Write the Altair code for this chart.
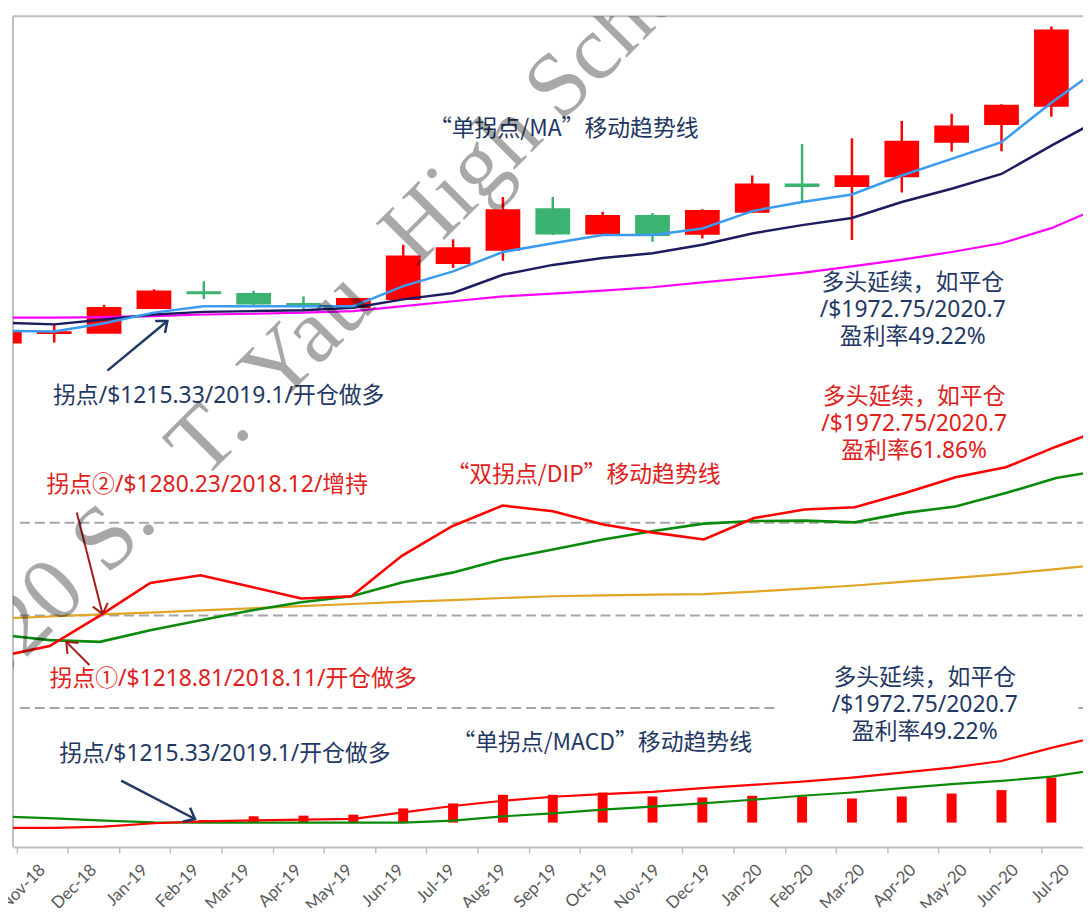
import json
import math
import altair as alt
import pandas as pd

# ---------------- data ----------------
months = ["Oct-18", "Nov-18", "Dec-18", "Jan-19", "Feb-19", "Mar-19", "Apr-19", "May-19",
          "Jun-19", "Jul-19", "Aug-19", "Sep-19", "Oct-19", "Nov-19", "Dec-19", "Jan-20",
          "Feb-20", "Mar-20", "Apr-20", "May-20", "Jun-20", "Jul-20", "Aug-20"]
axis_labels = months[1:22]   # Nov-18 .. Jul-20

# monthly candles Oct-18 .. Jul-20
candle_open = [1149, 1174, 1175, 1240, 1282, 1277, 1251, 1243, 1264, 1359, 1394,
               1501, 1437, 1483, 1436, 1494, 1566, 1562, 1588, 1679, 1726, 1774]
candle_high = [1180, 1197, 1249, 1290, 1311, 1286, 1271, 1267, 1407, 1422, 1533,
               1533, 1494, 1491, 1501, 1590, 1673, 1688, 1734, 1753, 1778, 1983]
candle_low = [1146, 1149, 1174, 1239, 1264, 1245, 1232, 1240, 1263, 1346, 1365,
              1433, 1431, 1415, 1424, 1492, 1522, 1420, 1545, 1653, 1654, 1745]
candle_close = [1178, 1176, 1240, 1284, 1279, 1252, 1248, 1264, 1376, 1398, 1498,
                1437, 1483, 1433, 1496, 1566, 1562, 1588, 1679, 1719, 1774, 1972.75]

# moving averages Oct-18 .. Aug-20
ma_fast = [1180, 1178, 1200, 1228, 1245, 1245, 1245, 1245, 1298, 1337, 1388, 1411,
           1433, 1433, 1450, 1496, 1520, 1540, 1590, 1634, 1678, 1782, 1877]
ma_mid = [1201, 1197, 1210, 1223, 1230, 1232, 1234, 1241, 1263, 1280, 1328, 1354,
          1372, 1385, 1407, 1437, 1459, 1478, 1520, 1555, 1594, 1669, 1740]
ma_slow = [1215, 1215, 1216, 1219, 1223, 1225, 1228, 1232, 1245, 1258, 1271, 1278,
           1286, 1295, 1308, 1320, 1333, 1350, 1368, 1388, 1411, 1451, 1507]

# DIP lines Oct-18 .. Aug-20
dip_red = [1185, 1209, 1280, 1356, 1374, 1347, 1320, 1325, 1419, 1488, 1536, 1523,
           1492, 1473, 1457, 1507, 1527, 1532, 1565, 1602, 1625, 1673, 1717]
dip_green = [1236, 1223, 1219, 1246, 1269, 1292, 1311, 1325, 1357, 1380, 1411, 1434,
             1457, 1477, 1494, 1500, 1501, 1497, 1519, 1534, 1565, 1600, 1620]
dip_gold = [1273, 1278, 1283, 1287, 1292, 1297, 1302, 1307, 1312, 1316, 1321, 1325,
            1327, 1329, 1330, 1336, 1343, 1350, 1359, 1368, 1377, 1388, 1400]
dip_grid = [1496, 1280, 1065]

# MACD Oct-18 .. Aug-20 (bars Oct-18 .. Jul-20)
macd_red = [-5.3, -5.3, -4, -0.7, 1.3, 2.3, 3, 3.7, 10.3, 16.7, 22, 26, 28.7, 31,
            34.7, 38, 41.3, 45.3, 50.3, 55.3, 62, 75.3, 87]
macd_green = [6, 4.3, 2, 0.3, 0, 0, 0, 0, 0, 2, 6.3, 9.3, 13, 16, 19.3, 23, 27, 30.3,
              34.7, 38.7, 42, 46.3, 54]
macd_bar = [None, None, None, None, 2.7, 6.3, 7, 8, 14.3, 19.3, 28, 28, 30.3, 26.3,
            25.3, 27, 26.3, 24.3, 26.3, 29.3, 32.7, 45.3]

watermark_words = ["©2020", "S.", "T.", "Yau", "High", "School"]

idx = list(range(-1, len(months) - 1))   # Oct-18 = -1, Nov-18 = 0 ...

# ---------------- layout / style ----------------
W, H = 1078, 837
X_DOMAIN = [-0.728, 20.535]          # data panels
AXIS_DOMAIN = [-0.572, 20.322]       # the category axis below (slightly different spacing)
PRICE_DOMAIN = [-182.7, 2010.2]
DIP_DOMAIN = [741.5, 2674.2]
MACD_DOMAIN = [-24.7, 812.3]

FONT = "'Noto Sans', 'Noto Sans CJK SC', sans-serif"
FONT_CJK = "'Noto Sans CJK SC', sans-serif"
RED = "#FF0000"
CANDLE_GREEN = "#3CB371"
BLUE = "#3A9BF0"
NAVY_LINE = "#1C1C5E"
MAGENTA = "#FF00FF"
DGREEN = "#0A8A0A"
GOLD = "#E0A526"
TXT_NAVY = "#1F3864"
TXT_RED = "#E0201B"
ARROW_RED = "#A51C1C"
GRID = "#A6A6A6"
FRAME = "#BFBFBF"
CHEVRON = "M-0.9,1.1L0,0L0.9,1.1"

XS = alt.Scale(domain=X_DOMAIN, nice=False, zero=False)
label_expr = ("datum.value < 20 ? " + json.dumps(axis_labels) +
              "[round(datum.value + 0.5)] : ''")
XAXIS = alt.Axis(values=[k - 0.5 for k in range(22)], labelExpr=label_expr,
                 labelOffset=25.8, labelAngle=315, labelAlign="right",
                 labelBaseline="middle", labelPadding=14, labelFont="Lato",
                 labelFontSize=17, labelColor="#595959", labelOverlap=False,
                 labelFlush=False, tickSize=6, tickColor=FRAME, tickWidth=1.5,
                 domainColor=FRAME, domainWidth=2, grid=False, title=None,
                 orient="bottom")


def xenc(field="i"):
    return alt.X(f"{field}:Q", scale=XS, axis=None)


def yenc(field, domain):
    return alt.Y(f"{field}:Q", scale=alt.Scale(domain=domain, nice=False, zero=False),
                 axis=None)


def line(values, domain, color, width):
    df = pd.DataFrame({"i": idx[:len(values)], "v": values})
    return alt.Chart(df).mark_line(color=color, strokeWidth=width, clip=True).encode(
        x=xenc(), y=yenc("v", domain))


def note(i, v, text, domain, color, align="center", font=FONT):
    # for multi-line notes, v is the position of the first line
    df = pd.DataFrame({"i": [i], "v": [v], "t": [text]})
    return alt.Chart(df).mark_text(align=align, baseline="middle", font=font, fontSize=23,
                                   color=color, lineBreak="\n", lineHeight=27,
                                   clip=True).encode(
        x=xenc(), y=yenc("v", domain), text="t:N")


def arrow(i1, v1, i2, v2, domain, color, width):
    df = pd.DataFrame({"i": [i1], "v": [v1], "i2": [i2], "v2": [v2]})
    dx = (i2 - i1) * W / (X_DOMAIN[1] - X_DOMAIN[0])
    dy = -(v2 - v1) * H / (domain[1] - domain[0])
    ang = math.degrees(math.atan2(dx, -dy)) % 360
    rule = alt.Chart(df).mark_rule(color=color, strokeWidth=width).encode(
        x=xenc(), y=yenc("v", domain), x2="i2:Q", y2="v2:Q")
    head = alt.Chart(df).mark_point(shape=CHEVRON, angle=ang, size=300, filled=False,
                                    color=color, strokeWidth=width, opacity=1).encode(
        x=xenc("i2"), y=yenc("v2", domain))
    return alt.layer(rule, head)


# ---------------- category axis ----------------
axis_layer = alt.Chart(pd.DataFrame({"k": list(range(len(axis_labels)))})).mark_point(
    opacity=0, size=1).encode(
    x=alt.X("k:Q", scale=alt.Scale(domain=AXIS_DOMAIN, nice=False, zero=False), axis=XAXIS))

# ---------------- top panel: candles + MA ----------------
cdf = pd.DataFrame({"i": idx[:len(candle_open)], "open": candle_open, "high": candle_high,
                    "low": candle_low, "close": candle_close})
cdf["dir"] = ["up" if c >= o else "down" for o, c in zip(cdf["open"], cdf["close"])]
cscale = alt.Scale(domain=["up", "down"], range=[RED, CANDLE_GREEN])

wicks = alt.Chart(cdf).mark_rule(strokeWidth=2.5, clip=True).encode(
    x=xenc(), y=yenc("low", PRICE_DOMAIN), y2="high:Q",
    color=alt.Color("dir:N", scale=cscale, legend=None))
bodies = alt.Chart(cdf).mark_bar(size=33, strokeWidth=2, clip=True).encode(
    x=xenc(), y=yenc("open", PRICE_DOMAIN), y2="close:Q",
    color=alt.Color("dir:N", scale=cscale, legend=None),
    stroke=alt.Stroke("dir:N", scale=cscale, legend=None))

top = alt.layer(
    wicks, bodies,
    line(ma_slow, PRICE_DOMAIN, MAGENTA, 2.2),
    line(ma_mid, PRICE_DOMAIN, NAVY_LINE, 2.5),
    line(ma_fast, PRICE_DOMAIN, BLUE, 2.5),
    note(10.22, 1712, "“单拐点/MA”移动趋势线", PRICE_DOMAIN, TXT_NAVY, font=FONT_CJK),
    note(17.22, 1306, "多头延续，如平仓\n/$1972.75/2020.7\n盈利率49.22%", PRICE_DOMAIN, TXT_NAVY),
    note(-0.024, 1007, "拐点/$1215.33/2019.1/开仓做多", PRICE_DOMAIN, TXT_NAVY, "left"),
    arrow(1.067, 1075, 2.27, 1206, PRICE_DOMAIN, TXT_NAVY, 2.5),
)

# ---------------- middle panel: DIP ----------------
gdf = pd.DataFrame({"x1": [-0.59, -0.59, -0.59, 20.44],
                    "x2": [21.5, 21.5, 14.46, 21.5],
                    "v": [dip_grid[0], dip_grid[1], dip_grid[2], dip_grid[2]]})
grid = alt.Chart(gdf).mark_rule(color=GRID, strokeWidth=2, strokeDash=[10, 5],
                                clip=True).encode(
    x=xenc("x1"), x2="x2:Q", y=yenc("v", DIP_DOMAIN))

mid = alt.layer(
    grid,
    line(dip_gold, DIP_DOMAIN, GOLD, 2.2),
    line(dip_green, DIP_DOMAIN, DGREEN, 2.6),
    line(dip_red, DIP_DOMAIN, RED, 2.6),
    note(10.61, 1607, "“双拐点/DIP”移动趋势线", DIP_DOMAIN, TXT_RED, font=FONT_CJK),
    note(-0.063, 1584, "拐点②/$1280.23/2018.12/增持", DIP_DOMAIN, TXT_RED, "left"),
    note(0.0, 1132, "拐点①/$1218.81/2018.11/开仓做多", DIP_DOMAIN, TXT_RED, "left"),
    note(17.18, 1788, "多头延续，如平仓\n/$1972.75/2020.7\n盈利率61.86%", DIP_DOMAIN, TXT_RED),
    arrow(0.54, 1520, 1.053, 1284, DIP_DOMAIN, ARROW_RED, 2),
    arrow(0.791, 1165, 0.331, 1219, DIP_DOMAIN, ARROW_RED, 2),
)

# ---------------- bottom panel: MACD ----------------
bdf = pd.DataFrame({"i": idx[:len(macd_bar)], "v": macd_bar, "z": 0}).dropna()
bars = alt.Chart(bdf).mark_bar(size=10, color=RED, clip=True).encode(
    x=xenc(), y=yenc("v", MACD_DOMAIN), y2="z:Q")

bot = alt.layer(
    bars,
    line(macd_green, MACD_DOMAIN, DGREEN, 2.2),
    line(macd_red, MACD_DOMAIN, RED, 2.2),
    note(17.46, 145.3, "多头延续，如平仓\n/$1972.75/2020.7\n盈利率49.22%", MACD_DOMAIN, TXT_NAVY),
    note(0.1, 68.6, "拐点/$1215.33/2019.1/开仓做多", MACD_DOMAIN, TXT_NAVY, "left"),
    note(10.99, 80.3, "“单拐点/MACD”移动趋势线", MACD_DOMAIN, TXT_NAVY, font=FONT_CJK),
    arrow(1.343, 42.3, 2.823, 3.6, MACD_DOMAIN, TXT_NAVY, 2.5),
)

# ---------------- decoration: frame + watermark ----------------
one = pd.DataFrame({"k": [0]})
frame_left = alt.Chart(one).mark_rule(color=FRAME, strokeWidth=2).encode(
    x=alt.value(0), y=alt.value(0), y2=alt.value(H))
frame_top = alt.Chart(one).mark_rule(color=FRAME, strokeWidth=2).encode(
    x=alt.value(0), x2=alt.value(W), y=alt.value(0))

# watermark words placed along a -45 degree line (pixel anchors in the plot area)
wm_anchor = [(56.9, 563.1, "right"), (75.3, 544.7, "left"), (171.4, 448.6, "left"),
             (245.7, 374.4, "left"), (386.4, 233.6, "left"), (532.0, 88.0, "left")]
watermark = []
for word, (wx, wy, wal) in zip(watermark_words, wm_anchor):
    watermark.append(
        alt.Chart(pd.DataFrame({"t": [word]})).mark_text(
            angle=315, align=wal, baseline="middle", font="Liberation Serif", fontSize=92,
            color="black", opacity=0.34, clip=True).encode(
            x=alt.value(wx), y=alt.value(wy), text="t:N"))

chart = alt.layer(axis_layer, frame_left, frame_top, top, mid, bot, *watermark).resolve_scale(
    x="independent", y="independent"
).properties(
    width=W, height=H,
    autosize=alt.AutoSizeParams(type="none"),
    padding={"left": 5, "top": 5, "right": 0, "bottom": 58},
    background="white",
).configure_view(stroke=None)

chart.save("out.html", embed_options={"renderer": "svg", "actions": False})
